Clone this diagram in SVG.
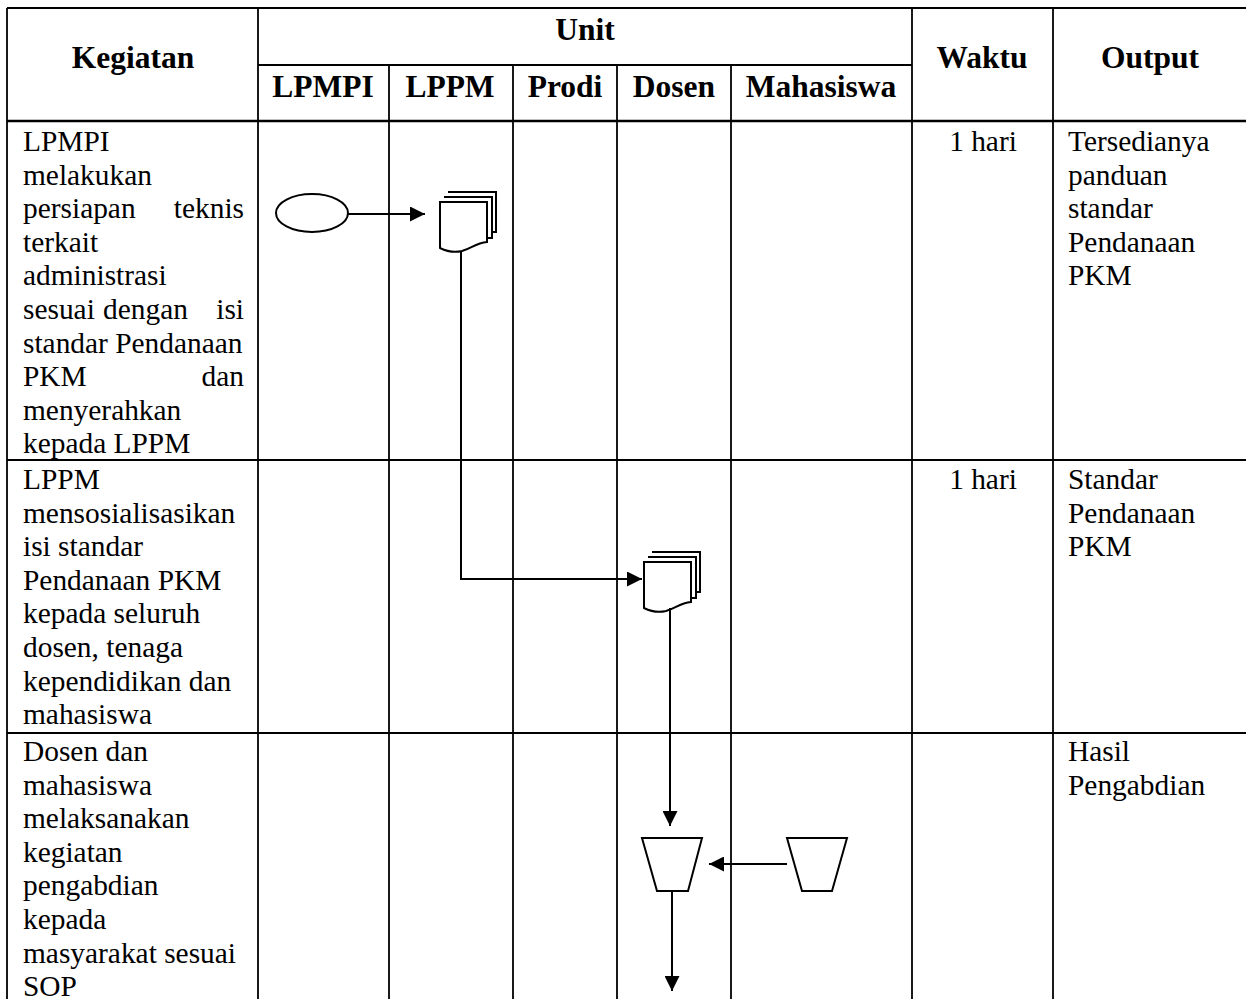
<svg xmlns="http://www.w3.org/2000/svg" width="1246" height="999" viewBox="0 0 1246 999">
<style>
.grid{stroke:#000;stroke-width:1.8;fill:none}
.h{font-family:"Liberation Serif","Times New Roman",serif;font-weight:bold;font-size:31.5px;fill:#000;text-anchor:middle}
.t{font-family:"Liberation Serif","Times New Roman",serif;font-size:29.4px;fill:#000}
.e{text-anchor:end}
.m{text-anchor:middle}
.shape{fill:#fff;stroke:#000;stroke-width:2}
.conn{fill:none;stroke:#000;stroke-width:2}
</style>
<defs>
<marker id="arr" viewBox="0 0 10 10" refX="10" refY="5" markerWidth="15" markerHeight="15" markerUnits="userSpaceOnUse" orient="auto">
<path d="M0,0 L10,5 L0,10 z" fill="#000"/>
</marker>
<g id="multidoc">
<path class="shape" d="M8,-10 H56 V30 H52"/>
<path class="shape" d="M4,-5 H52 V36 H47"/>
<path class="shape" d="M0,0 H47 V40 C36,41 32,46 22,49 C14,51 6,49 0,46 Z"/>
</g>
</defs>
<rect width="1246" height="999" fill="#fff"/>
<g id="table">
<line class="grid" x1="7" y1="8" x2="1246" y2="8"/>
<line class="grid" x1="258" y1="65" x2="912" y2="65"/>
<line class="grid" x1="7" y1="121" x2="1246" y2="121" style="stroke-width:2.4"/>
<line class="grid" x1="7" y1="460" x2="1246" y2="460"/>
<line class="grid" x1="7" y1="733" x2="1246" y2="733"/>
<line class="grid" x1="7" y1="8" x2="7" y2="999"/>
<line class="grid" x1="258" y1="8" x2="258" y2="999"/>
<line class="grid" x1="389" y1="65" x2="389" y2="999"/>
<line class="grid" x1="513" y1="65" x2="513" y2="999"/>
<line class="grid" x1="617" y1="65" x2="617" y2="999"/>
<line class="grid" x1="731" y1="65" x2="731" y2="999"/>
<line class="grid" x1="912" y1="8" x2="912" y2="999"/>
<line class="grid" x1="1053" y1="8" x2="1053" y2="999"/>
</g>
<g id="header">
<text class="h" x="133" y="68">Kegiatan</text>
<text class="h" x="585" y="40">Unit</text>
<text class="h" x="323" y="97">LPMPI</text>
<text class="h" x="450" y="97">LPPM</text>
<text class="h" x="565" y="97">Prodi</text>
<text class="h" x="674" y="97">Dosen</text>
<text class="h" x="821" y="97">Mahasiswa</text>
<text class="h" x="982" y="68">Waktu</text>
<text class="h" x="1150" y="68">Output</text>
</g>
<g id="row1">
<text class="t" x="23" y="151">LPMPI</text>
<text class="t" x="23" y="184.6">melakukan</text>
<text class="t" x="23" y="218.2">persiapan</text>
<text class="t e" x="244" y="218.2">teknis</text>
<text class="t" x="23" y="251.8">terkait</text>
<text class="t" x="23" y="285.4">administrasi</text>
<text class="t" x="23" y="319">sesuai</text>
<text class="t" x="103" y="319">dengan</text>
<text class="t e" x="244" y="319">isi</text>
<text class="t" x="23" y="352.6">standar Pendanaan</text>
<text class="t" x="23" y="386.2">PKM</text>
<text class="t e" x="244" y="386.2">dan</text>
<text class="t" x="23" y="419.8">menyerahkan</text>
<text class="t" x="23" y="453.4">kepada LPPM</text>
<text class="t m" x="983" y="151">1 hari</text>
<text class="t" x="1068" y="151">Tersedianya</text>
<text class="t" x="1068" y="184.6">panduan</text>
<text class="t" x="1068" y="218.2">standar</text>
<text class="t" x="1068" y="251.8">Pendanaan</text>
<text class="t" x="1068" y="285.4">PKM</text>
</g>
<g id="row2">
<text class="t" x="23" y="489">LPPM</text>
<text class="t" x="23" y="522.6">mensosialisasikan</text>
<text class="t" x="23" y="556.2">isi standar</text>
<text class="t" x="23" y="589.8">Pendanaan PKM</text>
<text class="t" x="23" y="623.4">kepada seluruh</text>
<text class="t" x="23" y="657">dosen, tenaga</text>
<text class="t" x="23" y="690.6">kependidikan dan</text>
<text class="t" x="23" y="724.2">mahasiswa</text>
<text class="t m" x="983" y="489">1 hari</text>
<text class="t" x="1068" y="489">Standar</text>
<text class="t" x="1068" y="522.6">Pendanaan</text>
<text class="t" x="1068" y="556.2">PKM</text>
</g>
<g id="row3">
<text class="t" x="23" y="761">Dosen dan</text>
<text class="t" x="23" y="794.6">mahasiswa</text>
<text class="t" x="23" y="828.2">melaksanakan</text>
<text class="t" x="23" y="861.8">kegiatan</text>
<text class="t" x="23" y="895.4">pengabdian</text>
<text class="t" x="23" y="929">kepada</text>
<text class="t" x="23" y="962.6">masyarakat sesuai</text>
<text class="t" x="23" y="995.5">SOP</text>
<text class="t" x="1068" y="761">Hasil</text>
<text class="t" x="1068" y="794.6">Pengabdian</text>
</g>
<g id="start">
<ellipse class="shape" cx="312" cy="213" rx="36" ry="19"/>
</g>
<g id="doc1">
<use href="#multidoc" x="440" y="202"/>
</g>
<g id="doc2">
<use href="#multidoc" x="644" y="562"/>
</g>
<g id="manual-dosen">
<path class="shape" d="M642,838 H702 L688,891 H657 Z"/>
</g>
<g id="manual-mahasiswa">
<path class="shape" d="M787,838 H847 L832,891 H802 Z"/>
</g>
<g id="connectors">
<line class="conn" x1="348" y1="214" x2="425" y2="214" marker-end="url(#arr)"/>
<polyline class="conn" points="461,251 461,579 642,579" marker-end="url(#arr)"/>
<line class="conn" x1="670" y1="608" x2="670" y2="826" marker-end="url(#arr)"/>
<line class="conn" x1="787" y1="864" x2="709" y2="864" marker-end="url(#arr)"/>
<line class="conn" x1="672" y1="891" x2="672" y2="991" marker-end="url(#arr)"/>
</g>
</svg>
